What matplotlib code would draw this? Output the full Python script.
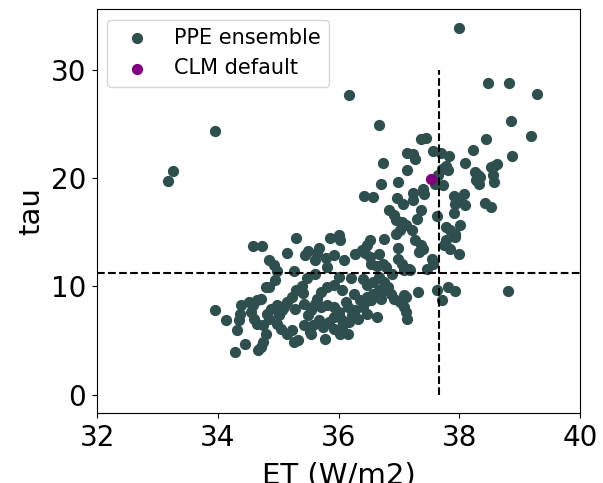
import matplotlib
matplotlib.use("Agg")
import matplotlib.pyplot as plt

# ensemble members: ET (W/m2) and tau
et_ppe = [
    37.99, 36.17, 38.48, 38.82, 39.29, 33.96, 38.85, 36.67, 39.19, 38.44,
    37.37, 37.45, 33.26, 33.17, 38.80, 38.23, 38.88,
    37.14, 37.24, 37.27, 37.57, 37.70, 37.83, 36.74, 37.14, 38.09, 37.78,
    37.72, 37.81, 38.26, 38.31, 38.35, 38.28, 38.33, 38.58, 38.63, 38.52,
    38.56, 38.58, 37.65, 37.59, 37.73, 36.99, 36.70, 37.40, 37.24, 37.42,
    36.96, 36.42, 36.57, 37.24, 37.07, 37.91, 37.97, 38.07, 37.93, 38.09,
    38.42, 38.52, 36.84, 37.37, 36.92, 37.30, 37.63, 37.91, 36.95, 37.05,
    37.11, 37.02, 36.95, 37.21, 37.78, 37.85, 37.93, 38.01, 37.93, 37.27,
    36.75, 37.78, 37.75, 37.37, 37.40, 37.33, 36.98, 37.85, 37.99, 37.55,
    37.56, 37.46, 37.18, 37.08, 37.63, 37.72, 37.82, 37.93, 37.32,
    34.59, 34.73, 35.30, 35.85, 36.00, 36.02, 35.68, 35.14, 35.49, 35.65,
    35.45, 35.61, 35.79, 35.93, 36.09, 36.28, 36.38, 36.47, 36.52, 36.44,
    36.52, 36.54, 34.85, 34.93, 34.98, 35.26, 35.80, 35.61, 35.47, 36.00,
    36.20, 36.63, 36.73, 36.79, 36.89, 36.67, 36.76, 36.57, 36.41, 36.47,
    36.82, 36.76, 36.67, 36.57, 36.47, 36.44, 36.54, 36.70, 36.86, 36.92,
    37.08, 37.02, 37.08, 37.11, 37.13, 36.64, 36.35, 36.28, 36.41, 36.47,
    36.32, 36.22, 36.16, 36.12, 36.06, 35.93, 35.80, 35.71, 35.65, 35.61,
    35.55, 35.49, 35.42, 35.41, 35.30, 35.23, 35.15, 35.10, 35.27, 35.71,
    35.80, 35.93, 36.00, 35.93, 35.84, 35.74, 35.77, 35.68, 35.58, 35.52,
    35.42, 35.33, 35.26, 35.23, 35.14, 35.04, 34.98, 35.01, 35.07, 34.98,
    34.88, 34.82, 34.85, 34.75, 34.79, 34.75, 34.72, 34.66, 34.28, 34.45,
    34.31, 34.14, 33.96, 34.35, 34.37, 34.39, 34.51, 34.59, 34.65, 34.72,
    34.55, 34.60, 34.65, 34.79, 34.85, 34.94, 35.39, 36.25, 36.16, 36.03,
    36.06, 36.17, 35.93, 35.55, 36.06, 36.00, 37.11, 36.98, 37.05, 37.16,
    36.67,
]
tau_ppe = [
    33.95, 27.75, 28.83, 28.83, 27.78, 24.42, 25.29, 24.92, 23.93, 23.68,
    23.68, 23.77, 20.72, 19.77, 9.56, 22.66, 22.05,
    22.39, 22.23, 21.83, 22.51, 22.39, 22.05, 21.46, 20.75, 21.43, 21.15,
    20.91, 20.81, 20.60, 20.29, 20.14, 19.83, 19.52, 21.18, 21.37, 21.06,
    20.29, 19.67, 20.29, 19.52, 19.36, 19.67, 19.52, 19.06, 18.66, 18.59,
    18.19, 18.38, 18.29, 18.04, 17.67, 18.38, 18.13, 18.59, 17.67, 17.51,
    17.76, 17.36, 17.11, 17.05, 16.59, 16.28, 16.53, 16.84, 16.13, 15.97,
    15.66, 15.20, 14.89, 15.20, 15.51, 15.20, 14.89, 15.66, 14.58, 14.28,
    14.43, 14.28, 13.81, 13.81, 13.51, 13.20, 13.57, 13.51, 13.04, 12.58,
    12.12, 11.66, 11.56, 11.50, 9.65, 8.73, 9.96, 9.59, 9.50,
    13.75, 13.75, 14.52, 14.52, 14.74, 14.28, 13.60, 13.11, 13.29, 13.14,
    12.95, 12.43, 12.67, 12.89, 12.49, 12.98, 13.41, 13.81, 14.28, 13.14,
    12.74, 12.12, 12.43, 11.96, 11.44, 11.44, 11.81, 11.13, 10.79, 10.89,
    10.82, 11.90, 12.12, 11.81, 11.19, 10.89, 10.42, 10.42, 10.73, 10.11,
    9.96, 9.65, 9.65, 9.34, 9.03, 8.57, 8.73, 8.88, 9.34, 8.88,
    9.19, 8.57, 8.11, 7.65, 7.03, 7.18, 8.73, 7.80, 8.11, 7.49,
    7.03, 7.34, 8.11, 8.57, 9.65, 10.11, 9.96, 9.50, 8.88, 8.42,
    7.80, 7.34, 8.36, 9.40, 9.65, 9.03, 8.57, 8.11, 7.96, 8.11,
    8.26, 8.11, 7.65, 7.18, 6.72, 6.26, 5.18, 6.88, 6.41, 5.80,
    6.41, 5.03, 4.87, 5.95, 5.64, 6.11, 6.57, 7.34, 7.80, 8.26,
    7.96, 7.49, 7.03, 6.41, 5.64, 4.87, 4.41, 4.16, 3.95, 4.66,
    5.95, 6.88, 7.80, 6.88, 7.49, 8.26, 8.57, 8.26, 8.73, 8.88,
    7.65, 7.03, 6.57, 9.96, 9.96, 10.58, 10.02, 9.34, 5.64, 5.64,
    6.26, 6.72, 6.11, 5.64, 6.88, 7.34, 9.03, 12.58, 12.12, 11.66,
    13.04,
]

# default parameter run
et_default = [37.53]
tau_default = [19.95]

# observational reference lines
et_obs = 37.66
tau_obs = 11.25

fig = plt.figure(figsize=(6.03, 4.83), dpi=100)
ax = fig.add_axes([0.161, 0.145, 0.801, 0.836])

ax.scatter(et_ppe, tau_ppe, s=50, color='darkslategray', label='PPE ensemble')
ax.scatter(et_default, tau_default, s=50, color='purple', label='CLM default')

ax.axhline(tau_obs, color='k', linestyle='--', linewidth=1.5)
ax.plot([et_obs, et_obs], [0, 30], color='k', linestyle='--', linewidth=1.5)

ax.set_xlim(32, 40)
ax.set_xticks([32, 34, 36, 38, 40])
ax.set_yticks([0, 10, 20, 30])
ax.tick_params(labelsize=20, pad=4.5)
ax.set_xlabel('ET (W/m2)', fontsize=21, labelpad=7)
ax.set_ylabel('tau', fontsize=21)

ax.legend(loc='upper left', fontsize=15)

fig.savefig('out.png', dpi=100)
